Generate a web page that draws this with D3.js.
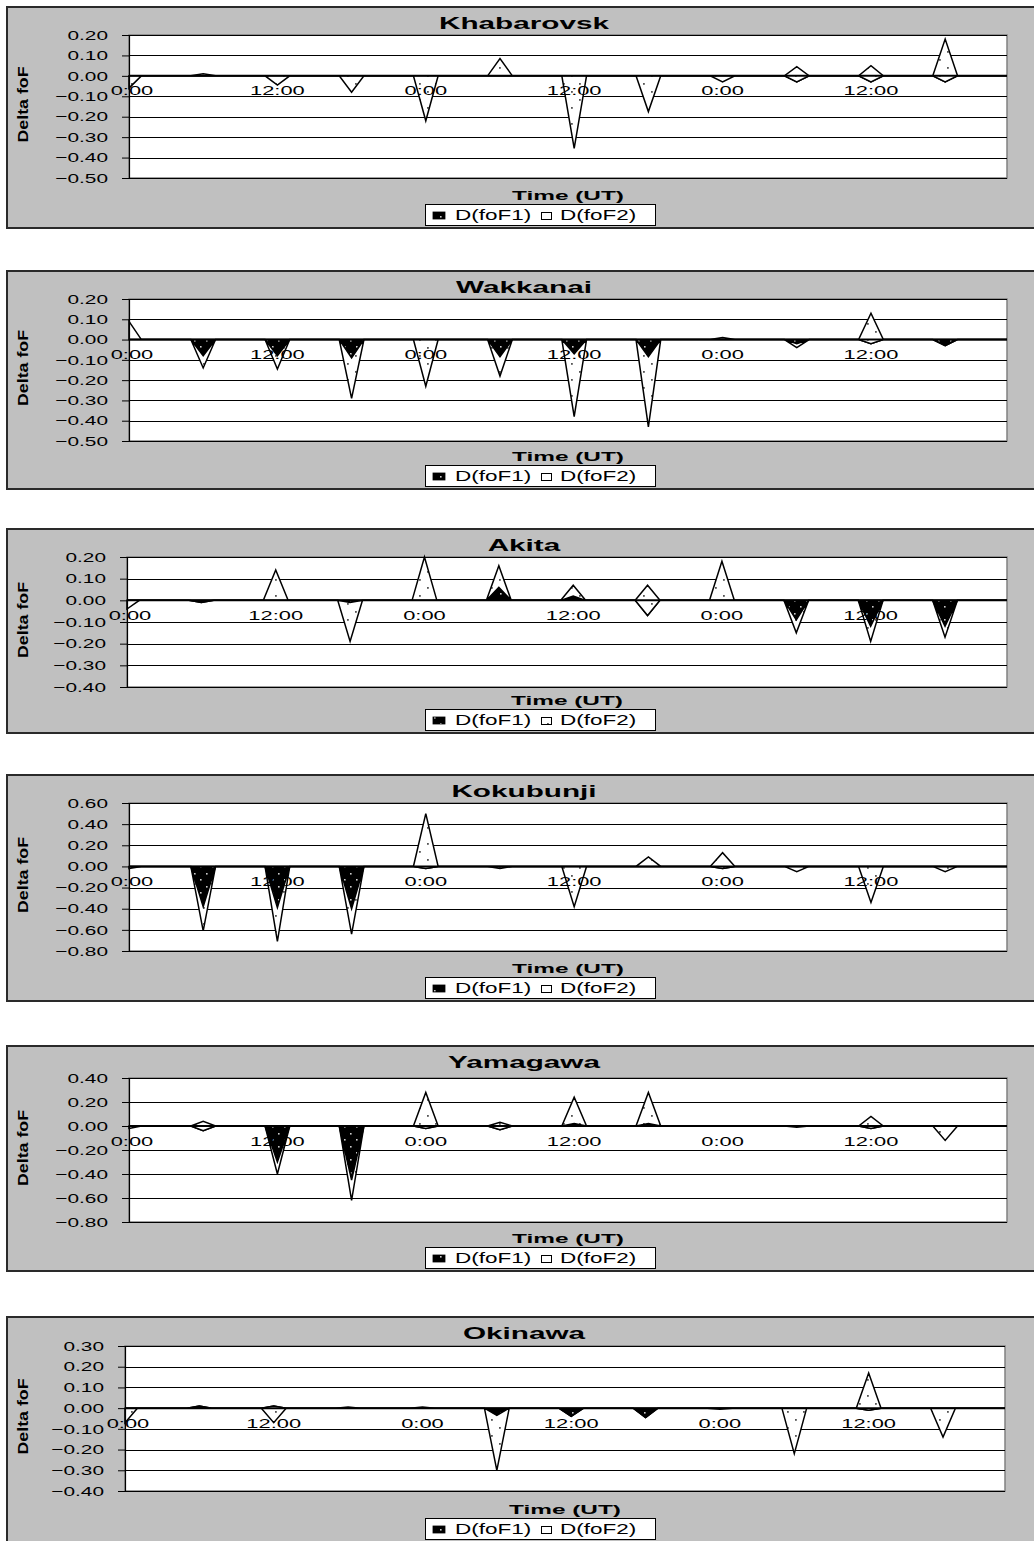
<!DOCTYPE html>
<html>
<head>
<meta charset="utf-8">
<script src="https://cdn.jsdelivr.net/npm/d3@7"></script>
<style>
  body { margin: 0; background: #fff; }
  svg { display: block; }
  text { font-family: "Liberation Sans", Arial, sans-serif; fill: #000; }
</style>
</head>
<body>
<svg id="chart" width="1034" height="1541"></svg>
<script>
// Ionosonde deviations, one observation every 6 h over three days (hourly category axis).
const obsHours = [0, 6, 12, 18, 24, 30, 36, 42, 48, 54, 60, 66];
const hourCount = 72;
const timeTickHours = [0, 12, 24, 36, 48, 60];
const timeTickLabels = ["0:00", "12:00", "0:00", "12:00", "0:00", "12:00"];
const seriesNames = ["D(foF1)", "D(foF2)"];
const stationNames = ["Khabarovsk", "Wakkanai", "Akita", "Kokubunji", "Yamagawa", "Okinawa"];

// Stacked area series: D(foF1) first, D(foF2) stacked on top of it.
const khabarovskF1 = [0, 0, 0, 0, 0, 0, 0, 0, 0, -0.03, -0.03, -0.03];
const khabarovskF2 = [-0.06, 0.01, -0.045, -0.08, -0.22, 0.085, -0.355, -0.175, -0.03, 0.075, 0.08, 0.21];
const wakkanaiF1 = [0, -0.08, -0.08, -0.09, 0, -0.085, -0.07, -0.085, 0, -0.02, -0.02, -0.03];
const wakkanaiF2 = [0.09, -0.06, -0.065, -0.2, -0.23, -0.095, -0.31, -0.345, 0.01, -0.02, 0.15, 0];
const akitaF1 = [0, -0.01, 0, -0.01, 0, 0.06, 0.02, -0.07, 0, -0.09, -0.12, -0.12];
const akitaF2 = [-0.04, 0, 0.14, -0.18, 0.2, 0.1, 0.05, 0.14, 0.18, -0.06, -0.07, -0.05];
const kokubunjiF1 = [0, -0.38, -0.39, -0.4, -0.02, 0, 0, 0, -0.02, 0, 0, 0];
const kokubunjiF2 = [-0.02, -0.23, -0.32, -0.24, 0.52, -0.02, -0.38, 0.09, 0.15, -0.05, -0.34, -0.05];
const yamagawaF1 = [0, -0.04, -0.3, -0.45, -0.02, -0.03, 0.02, 0.02, 0, 0, -0.02, 0];
const yamagawaF2 = [-0.02, 0.08, -0.1, -0.17, 0.3, 0.06, 0.22, 0.26, 0, -0.01, 0.1, -0.12];
const okinawaF1 = [0, 0.01, 0.01, 0, 0, -0.035, -0.04, -0.045, 0, 0, -0.01, 0];
const okinawaF2 = [-0.07, 0, -0.08, 0.005, 0.005, -0.265, 0, 0, -0.005, -0.22, 0.18, -0.14];

// Value-axis tick labels for each station.
const khabarovskTicks = [0.2, 0.1, 0, -0.1, -0.2, -0.3, -0.4, -0.5];
const wakkanaiTicks = [0.2, 0.1, 0, -0.1, -0.2, -0.3, -0.4, -0.5];
const akitaTicks = [0.2, 0.1, 0, -0.1, -0.2, -0.3, -0.4];
const kokubunjiTicks = [0.6, 0.4, 0.2, 0, -0.2, -0.4, -0.6, -0.8];
const yamagawaTicks = [0.4, 0.2, 0, -0.2, -0.4, -0.6, -0.8];
const okinawaTicks = [0.3, 0.2, 0.1, 0, -0.1, -0.2, -0.3, -0.4];

const stationF1 = [khabarovskF1, wakkanaiF1, akitaF1, kokubunjiF1, yamagawaF1, okinawaF1];
const stationF2 = [khabarovskF2, wakkanaiF2, akitaF2, kokubunjiF2, yamagawaF2, okinawaF2];
const stationTicks = [khabarovskTicks, wakkanaiTicks, akitaTicks, kokubunjiTicks, yamagawaTicks, okinawaTicks];

// Page layout of the six stacked chart frames.
const frames = [
  { top: 7,    bottom: 228,  plotTop: 35,   plotBottom: 178,  left: 129, right: 1007 },
  { top: 271,  bottom: 489,  plotTop: 299,  plotBottom: 441,  left: 129, right: 1007 },
  { top: 529,  bottom: 733,  plotTop: 557,  plotBottom: 687,  left: 127, right: 1007 },
  { top: 775,  bottom: 1001, plotTop: 803,  plotBottom: 951,  left: 129, right: 1007 },
  { top: 1046, bottom: 1271, plotTop: 1078, plotBottom: 1222, left: 129, right: 1007 },
  { top: 1317, bottom: 1542, plotTop: 1346, plotBottom: 1491, left: 125, right: 1005 }
];

const svg = d3.select("#chart");

// Fill patterns: dark fill with light dots for foF1, white fill with grey dots for foF2.
const defs = svg.append("defs");
const p1 = defs.append("pattern").attr("id", "fillF1").attr("patternUnits", "userSpaceOnUse")
  .attr("width", 12).attr("height", 13);
p1.append("rect").attr("width", 12).attr("height", 13).attr("fill", "#000");
p1.append("rect").attr("x", 2).attr("y", 2).attr("width", 1.6).attr("height", 1.6).attr("fill", "#ccc");
p1.append("rect").attr("x", 8).attr("y", 8).attr("width", 1.6).attr("height", 1.6).attr("fill", "#ccc");
const p2 = defs.append("pattern").attr("id", "fillF2").attr("patternUnits", "userSpaceOnUse")
  .attr("width", 16).attr("height", 16);
p2.append("rect").attr("width", 16).attr("height", 16).attr("fill", "#fff");
p2.append("rect").attr("x", 3).attr("y", 3).attr("width", 1.8).attr("height", 1.8).attr("fill", "#555");
p2.append("rect").attr("x", 11).attr("y", 11).attr("width", 1.8).attr("height", 1.8).attr("fill", "#555");

// Stretch text horizontally to a set factor of its natural width.
function widen(sel, factor) {
  sel.each(function () {
    const w = this.getComputedTextLength();
    this.setAttribute("textLength", (w * factor).toFixed(1));
    this.setAttribute("lengthAdjust", "spacingAndGlyphs");
  });
  return sel;
}

const fmt = d3.format(".2f");

stationNames.forEach((name, si) => {
  const f = frames[si];
  const ticks = stationTicks[si];
  const g = svg.append("g");

  // chart frame
  g.append("rect").attr("x", 7).attr("y", f.top).attr("width", 1060).attr("height", f.bottom - f.top)
    .attr("fill", "#c0c0c0").attr("stroke", "#2a2a2a").attr("stroke-width", 2);

  const x = d3.scaleLinear().domain([0, hourCount - 1]).range([f.left, f.right]);
  const y = d3.scaleLinear().domain([d3.min(ticks), d3.max(ticks)]).range([f.plotBottom, f.plotTop]);

  // plot area
  g.append("rect").attr("x", f.left).attr("y", f.plotTop)
    .attr("width", f.right - f.left).attr("height", f.plotBottom - f.plotTop)
    .attr("fill", "#fff").attr("stroke", "#808080").attr("stroke-width", 1.5);

  // gridlines
  g.append("g").selectAll("line").data(ticks.filter(t => t !== 0)).join("line")
    .attr("x1", f.left).attr("x2", f.right)
    .attr("y1", d => Math.round(y(d)) + 0.5).attr("y2", d => Math.round(y(d)) + 0.5)
    .attr("stroke", "#000").attr("stroke-width", 1.1);

  // hourly rows; hours without an observation sit on zero
  const rows = d3.range(hourCount).map(h => {
    const i = obsHours.indexOf(h);
    return { hour: h, f1: i < 0 ? 0 : stationF1[si][i], f2: i < 0 ? 0 : stationF2[si][i] };
  });
  const stacked = d3.stack().keys(["f1", "f2"]).offset(d3.stackOffsetNone)(rows);
  const area = d3.area()
    .x(d => x(d.data.hour))
    .y0(d => y(d[0]))
    .y1(d => y(d[1]));

  g.append("g").selectAll("path").data(stacked).join("path")
    .attr("d", area)
    .attr("fill", (d, i) => i === 0 ? "url(#fillF1)" : "url(#fillF2)")
    .attr("stroke", "#000").attr("stroke-width", 1.5).attr("stroke-linejoin", "miter");

  // value axis
  const yAxis = d3.axisLeft(y).tickValues(ticks).tickFormat(d => fmt(d).replace("-", "\u2212"))
    .tickSize(7).tickPadding(14);
  const ya = g.append("g").attr("transform", `translate(${f.left},0)`).call(yAxis);
  ya.select(".domain").attr("stroke", "#000").attr("stroke-width", 1.2);
  ya.selectAll(".tick line").attr("stroke", "#000");
  ya.selectAll(".tick text").attr("font-size", 13).attr("fill", "#000");
  widen(ya.selectAll(".tick text"), 1.6);

  // zero line (category axis)
  g.append("line").attr("x1", f.left).attr("x2", f.right)
    .attr("y1", y(0)).attr("y2", y(0)).attr("stroke", "#000").attr("stroke-width", 2);

  // time labels
  const tl = g.append("g").selectAll("text").data(timeTickHours).join("text")
    .attr("x", (d, i) => x(d) + (i === 0 ? 3 : 0))
    .attr("y", y(0) + 19.5)
    .attr("text-anchor", "middle").attr("font-size", 12.5)
    .text((d, i) => timeTickLabels[i]);
  widen(tl, 1.75);

  // title
  widen(g.append("text").attr("x", 524).attr("y", f.top + 21.5).attr("text-anchor", "middle")
    .attr("font-size", 16.5).attr("font-weight", "bold").text(name), 1.8);

  const lgTop = f.bottom - 24;

  // axis titles
  widen(g.append("text").attr("x", (f.left + f.right) / 2).attr("y", lgTop - 4)
    .attr("text-anchor", "middle").attr("font-size", 12.5).attr("font-weight", "bold")
    .text("Time (UT)"), 1.95);

  const cy = (f.plotTop + f.plotBottom) / 2 - 2;
  g.append("text").attr("transform", `translate(28,${cy}) rotate(-90)`)
    .attr("text-anchor", "middle").attr("font-size", 15).attr("font-weight", "bold")
    .attr("textLength", 76).attr("lengthAdjust", "spacingAndGlyphs")
    .text("Delta foF");

  // legend
  const lg = g.append("g");
  lg.append("rect").attr("x", 425.5).attr("y", lgTop + 0.5).attr("width", 230).attr("height", 21)
    .attr("fill", "#fff").attr("stroke", "#000").attr("stroke-width", 1);
  lg.append("rect").attr("x", 433).attr("y", lgTop + 8).attr("width", 12).attr("height", 7)
    .attr("fill", "url(#fillF1)").attr("stroke", "#000").attr("stroke-width", 0.8);
  lg.append("rect").attr("x", 541.5).attr("y", lgTop + 8.5).attr("width", 10).attr("height", 7)
    .attr("fill", "url(#fillF2)").attr("stroke", "#000").attr("stroke-width", 1);
  widen(lg.append("text").attr("x", 455).attr("y", lgTop + 16).attr("font-size", 14.5).text(seriesNames[0]), 1.55);
  widen(lg.append("text").attr("x", 560).attr("y", lgTop + 16).attr("font-size", 14.5).text(seriesNames[1]), 1.55);
});
</script>
</body>
</html>
